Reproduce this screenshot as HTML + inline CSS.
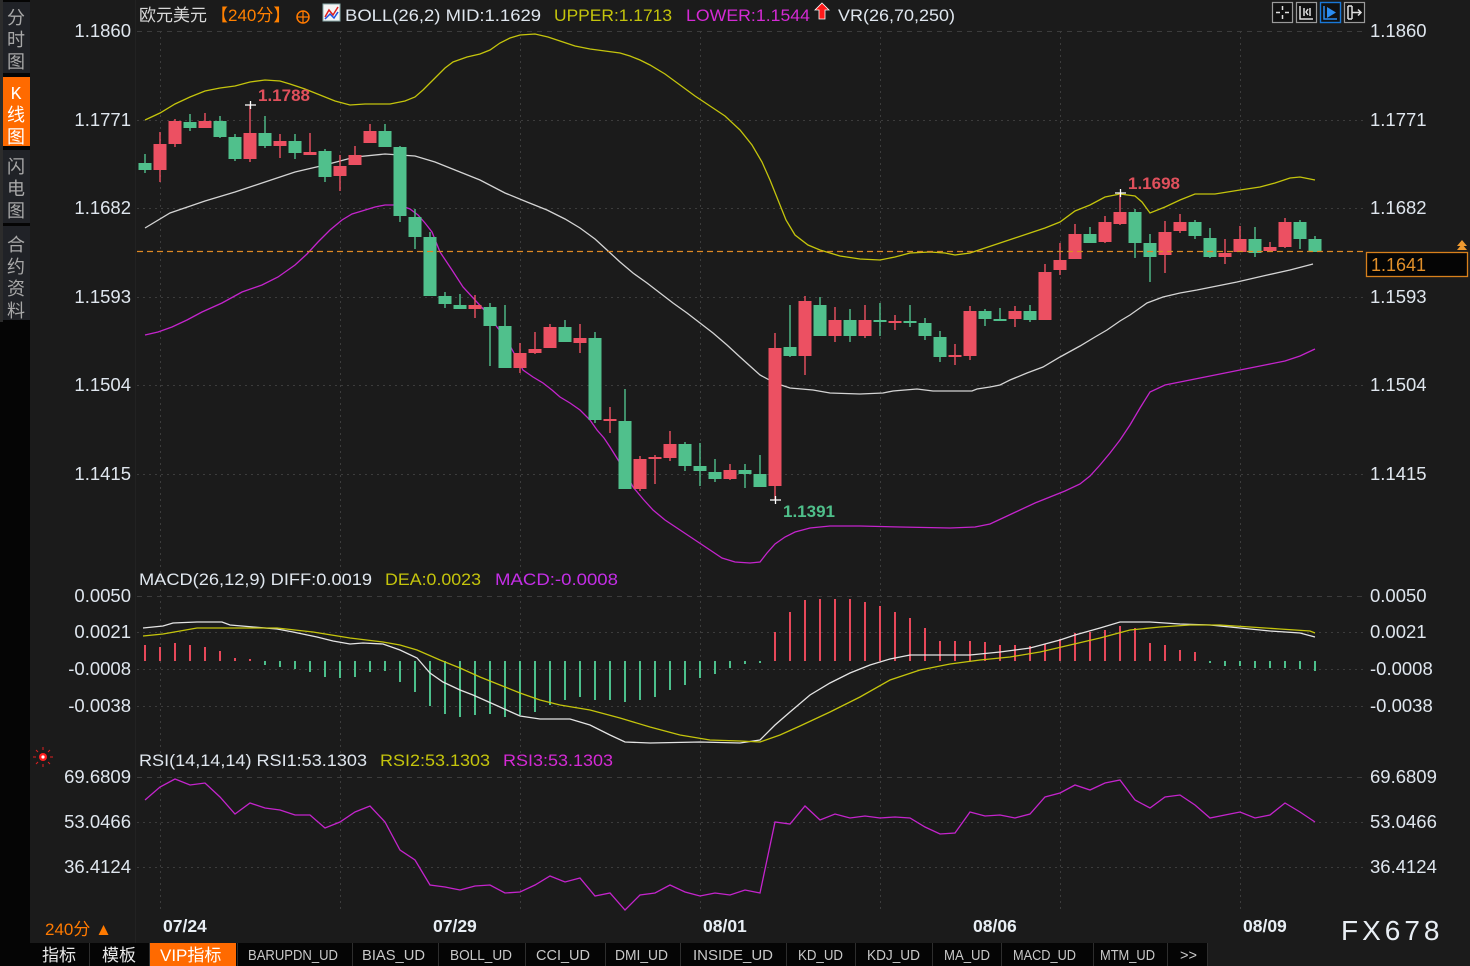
<!DOCTYPE html>
<html><head><meta charset="utf-8"><style>
html,body{margin:0;padding:0;background:#1b1b1b;width:1470px;height:966px;overflow:hidden}
svg{display:block}
text{font-family:"Liberation Sans","Noto Sans CJK SC",sans-serif}
.ax{fill:#dfe6ee;font-size:18.5px}
.tab{font-family:"Liberation Mono","Noto Sans CJK SC",monospace;font-size:15px;fill:#c8c8c8}
.side{font-size:18px;fill:#a8a8a8;text-anchor:middle}
</style></head><body>
<svg width="1470" height="966" viewBox="0 0 1470 966" xmlns="http://www.w3.org/2000/svg">
<rect x="0" y="0" width="1470" height="966" fill="#1b1b1b"/>
<!-- sidebar -->
<rect x="0" y="0" width="30" height="966" fill="#050505"/>
<rect x="0" y="0" width="3" height="322" fill="#2c2c2c"/>
<rect x="3" y="2" width="27" height="71" fill="#202227"/>
<rect x="3" y="77" width="27" height="69" fill="#ff6a00"/>
<rect x="3" y="150" width="27" height="73" fill="#202227"/>
<rect x="3" y="226" width="27" height="94" fill="#202227"/>
<text class="side" x="16" y="24">分</text><text class="side" x="16" y="46">时</text><text class="side" x="16" y="68">图</text>
<text class="side" x="16" y="99" style="fill:#fff;font-family:'Liberation Mono',monospace">K</text><text class="side" x="16" y="121" style="fill:#fff">线</text><text class="side" x="16" y="143" style="fill:#fff">图</text>
<text class="side" x="16" y="173">闪</text><text class="side" x="16" y="195">电</text><text class="side" x="16" y="217">图</text>
<text class="side" x="16" y="251">合</text><text class="side" x="16" y="273">约</text><text class="side" x="16" y="295">资</text><text class="side" x="16" y="317">料</text>
<line x1="135.5" y1="0" x2="135.5" y2="943" stroke="#222" stroke-width="1"/>

<!-- grid -->
<g stroke="#3c3c3c" stroke-width="1" fill="none">
<path d="M137 31.5H1365M137 596.5H1365M137 777.5H1365" stroke-dasharray="5 5"/>
<path d="M137 120.5H1365M137 208.5H1365M137 297.5H1365M137 385.5H1365M137 474.5H1365M137 632.5H1365M137 669.5H1365M137 706.5H1365M137 822.5H1365M137 867.5H1365" stroke-dasharray="2 4"/>
<path d="M160.5 31V912M340.5 31V912M520.5 31V912M700.5 31V912M880.5 31V912M1060.5 31V912M1240.5 31V912" stroke-dasharray="2 4"/>
</g>

<!-- header -->
<text x="139" y="21" font-size="17" fill="#d8d8d8">欧元美元</text>
<text x="211" y="21" font-size="17" fill="#ff8000">【240分】</text>
<circle cx="303" cy="17" r="6" fill="none" stroke="#ff7a00" stroke-width="1.5"/><path d="M297 17H309M303 11V23" stroke="#ff7a00" stroke-width="1.3"/>
<rect x="323" y="4" width="17" height="17" fill="#f4f4f4" stroke="#8aa" stroke-width="1"/>
<path d="M325 17L329 10L333 15L338 7" stroke="#e02020" stroke-width="1.5" fill="none"/><path d="M325 19L330 14L334 18L338 12" stroke="#2050e0" stroke-width="1.5" fill="none"/>
<text x="345" y="21" font-size="17" fill="#dfe6ee" textLength="196" lengthAdjust="spacingAndGlyphs">BOLL(26,2) MID:1.1629</text>
<text x="554" y="21" font-size="17" fill="#c4c40c" textLength="118" lengthAdjust="spacingAndGlyphs">UPPER:1.1713</text>
<text x="686" y="21" font-size="17" fill="#d42ad4" textLength="124" lengthAdjust="spacingAndGlyphs">LOWER:1.1544</text>
<path d="M822 3L829 10H825V19H819V10H815Z" fill="#ff1a1a" stroke="#fff" stroke-width="0.8"/>
<text x="838" y="21" font-size="17" fill="#dfe6ee" textLength="117" lengthAdjust="spacingAndGlyphs">VR(26,70,250)</text>

<!-- top right icons -->
<g fill="#111" stroke="#9a9a9a" stroke-width="1.2">
<rect x="1272.5" y="2.5" width="20" height="20"/><rect x="1296.5" y="2.5" width="20" height="20"/><rect x="1344.5" y="2.5" width="20" height="20"/>
</g>
<rect x="1320.5" y="2.5" width="20" height="20" fill="#111" stroke="#1a78d8" stroke-width="1.4"/>
<g stroke="#e0e0e0" stroke-width="1.5" fill="none">
<path d="M1282.5 6V10M1282.5 15V19M1276 12.5H1280M1285 12.5H1289"/>
<path d="M1300 6V19H1313M1304 8V16M1308 9L1306 12L1308 15M1310 8V16"/>
<path d="M1348 6V19M1352 6V19M1348 6H1352M1348 19H1352M1352 12.5H1361M1358 9.5L1361 12.5L1358 15.5"/>
</g>
<g stroke="#2a8cf0" stroke-width="1.5" fill="none"><path d="M1324 6V19H1337"/></g>
<path d="M1327 7L1336 12.5L1327 18Z" fill="#2a8cf0"/>

<!-- BOLL lines -->
<polyline fill="none" stroke="#c4c40c" stroke-width="1.3" points="145,120 160,113 175,104 190,97 205,91 220,88 235,86 250,82 265,80 280,81 290,84 305,89 320,95 335,101 350,105 365,104 390,104 405,101 415,97 423,90 433,80 445,68 453,62 467,57 480,54 490,50 500,43 510,38 520,35 535,34 548,37 560,41 575,46 590,49 605,51 620,53 630,56 640,60 650,65 665,74 680,85 695,96 710,106 725,116 740,130 752,145 762,162 770,180 778,200 786,220 795,235 808,245 820,250 840,256 860,259 880,260 895,257 910,253 930,252 945,253 955,255 970,253 985,248 1000,243 1015,238 1030,233 1045,228 1060,222 1075,211 1090,205 1105,197 1120,194 1135,196 1142,202 1150,213 1165,207 1180,200 1195,194 1215,194 1240,190 1260,187 1275,183 1290,178 1300,177 1315,180"/>
<polyline fill="none" stroke="#d4d4d4" stroke-width="1.3" points="145,228 170,213 205,201 235,192 265,182 295,172 325,165 355,157 385,154 415,156 435,162 455,170 480,180 505,193 527,202 547,210 565,219 580,228 595,239 607,250 620,262 633,273 647,283 660,293 673,303 687,313 700,323 713,333 727,345 740,357 750,366 760,375 775,383 790,388 813,390 830,393 860,394 883,393 893,391 917,389 933,391 972,391 977,389 990,387 1000,385 1010,380 1027,373 1043,367 1060,357 1080,346 1095,337 1107,330 1120,321 1130,315 1147,303 1163,297 1180,293 1197,290 1217,286 1237,282 1263,276 1290,270 1313,264"/>
<polyline fill="none" stroke="#c424cc" stroke-width="1.3" points="145,335 158,332 172,327 187,320 202,312 222,303 242,292 262,285 278,277 295,265 307,254 318,242 330,230 342,220 352,214 362,211 375,207 385,205 395,205 402,206 410,209 418,215 425,223 432,232 440,252 452,270 463,287 475,300 487,313 497,327 507,340 515,355 523,370 533,377 543,383 552,390 560,397 570,403 580,410 590,420 597,430 604,438 610,447 620,463 627,475 633,487 643,499 653,510 665,520 680,530 695,540 710,550 722,558 735,562 750,563 760,562 767,553 775,544 785,537 795,532 810,528 830,526 860,526 900,527 950,528 975,527 990,524 1005,517 1020,510 1035,503 1050,497 1065,491 1080,484 1090,476 1100,465 1110,453 1120,440 1130,425 1140,408 1150,392 1165,385 1185,381 1205,377 1225,373 1245,369 1265,365 1285,361 1300,356 1315,349"/>

<!-- candles -->
<g stroke="#ec5062" stroke-width="1.4" fill="none">
<path d="M160 132V182M175 119V147M205 113V128M250 105V162M280 134V158M310 133V155M340 155V191M355 146V165M370 124V143M475 295V318M520 343V373M535 332V354M550 324V348M580 324V353M610 407V433M640 456V491M655 455V484M670 431V461M730 464V480M775 333V500M805 296V375M835 307V342M865 305V338M895 315V330M955 344V365M970 306V360M1015 306V327M1045 264V320M1060 243V275M1075 224V259M1105 216V243M1120 193V225M1165 221V273M1180 214V233M1225 239V264M1240 226V252M1270 242V251M1285 218V248"/>
</g>
<path fill="#ec5062" d="M153.5 144h13v26h-13zM168.5 121h13v23h-13zM198.5 121h13v7h-13zM243.5 133h13v26h-13zM273.5 141h13v5h-13zM303.5 152h13v3h-13zM333.5 166h13v10h-13zM348.5 155h13v10h-13zM363.5 131h13v12h-13zM468.5 305h13v4h-13zM513.5 353h13v15h-13zM528.5 349h13v4h-13zM543.5 327h13v21h-13zM573.5 338h13v5h-13zM603.5 419h13v2h-13zM633.5 459h13v30h-13zM648.5 457h13v2h-13zM663.5 444h13v14h-13zM723.5 470h13v9h-13zM768.5 348h13v138h-13zM798.5 301h13v55h-13zM828.5 320h13v16h-13zM858.5 320h13v16h-13zM888.5 321h13v2h-13zM948.5 355h13v2h-13zM963.5 311h13v45h-13zM1008.5 311h13v8h-13zM1038.5 272h13v48h-13zM1053.5 260h13v10h-13zM1068.5 234h13v25h-13zM1098.5 222h13v20h-13zM1113.5 212h13v12h-13zM1158.5 232h13v23h-13zM1173.5 222h13v9h-13zM1218.5 253h13v4h-13zM1233.5 239h13v13h-13zM1263.5 247h13v4h-13zM1278.5 222h13v25h-13z"/>
<g stroke="#50c08c" stroke-width="1.4" fill="none">
<path d="M145 154V173M190 114V131M220 116V138M235 134V161M265 116V148M295 134V159M325 149V182M385 124V147M400 146V222M415 209V249M430 232V296M445 292V308M460 294V309M490 303V366M505 305V368M565 320V342M595 332V423M625 389V489M685 442V471M700 443V486M715 459V482M745 464V488M760 455V487M790 305V357M820 297V336M850 309V342M880 303V336M910 305V327M925 318V340M940 331V362M985 309V326M1000 308V321M1030 305V322M1090 227V243M1135 209V258M1150 234V282M1195 220V239M1210 228V258M1255 227V257M1300 220V249M1315 236V252"/>
</g>
<path fill="#50c08c" d="M138.5 163h13v7h-13zM183.5 122h13v6h-13zM213.5 121h13v16h-13zM228.5 137h13v22h-13zM258.5 133h13v13h-13zM288.5 141h13v12h-13zM318.5 151h13v26h-13zM378.5 131h13v16h-13zM393.5 147h13v69h-13zM408.5 217h13v20h-13zM423.5 237h13v59h-13zM438.5 296h13v8h-13zM453.5 305h13v4h-13zM483.5 307h13v19h-13zM498.5 326h13v42h-13zM558.5 327h13v15h-13zM588.5 338h13v82h-13zM618.5 421h13v68h-13zM678.5 444h13v22h-13zM693.5 466h13v5h-13zM708.5 472h13v7h-13zM738.5 470h13v4h-13zM753.5 474h13v13h-13zM783.5 347h13v9h-13zM813.5 305h13v31h-13zM843.5 320h13v16h-13zM873.5 320h13v2h-13zM903.5 321h13v2h-13zM918.5 323h13v13h-13zM933.5 337h13v20h-13zM978.5 311h13v8h-13zM993.5 319h13v2h-13zM1023.5 311h13v9h-13zM1083.5 234h13v9h-13zM1128.5 212h13v31h-13zM1143.5 243h13v14h-13zM1188.5 222h13v14h-13zM1203.5 238h13v19h-13zM1248.5 239h13v14h-13zM1293.5 222h13v17h-13zM1308.5 239h13v13h-13z"/>

<!-- high/low markers -->
<g stroke="#fff" stroke-width="1.3"><path d="M245 105H256M250.5 101V109M770 500H781M775.5 496V504M1115 193H1126M1120.5 189V197"/></g>
<text x="258" y="101" font-size="17" font-weight="bold" fill="#e0505c">1.1788</text>
<text x="783" y="517" font-size="17" font-weight="bold" fill="#4fbf8a">1.1391</text>
<text x="1128" y="189" font-size="17" font-weight="bold" fill="#e0505c">1.1698</text>

<!-- current price -->
<line x1="137" y1="251.5" x2="1366" y2="251.5" stroke="#e08a24" stroke-width="1.3" stroke-dasharray="6 4"/>
<rect x="1366.5" y="252.5" width="101" height="24" fill="#050505" stroke="#d8801c" stroke-width="1.3"/>
<text x="1371" y="271" font-size="18" fill="#e2902a">1.1641</text>
<path d="M1457 246L1462 240L1467 246ZM1457 250L1462 244L1467 250Z" fill="#f09a30"/>

<!-- axis labels -->
<g class="ax" text-anchor="end">
<text x="131" y="37">1.1860</text><text x="131" y="126">1.1771</text><text x="131" y="214">1.1682</text><text x="131" y="303">1.1593</text><text x="131" y="391">1.1504</text><text x="131" y="480">1.1415</text>
<text x="131" y="602">0.0050</text><text x="131" y="638">0.0021</text><text x="131" y="675">-0.0008</text><text x="131" y="712">-0.0038</text>
<text x="131" y="783">69.6809</text><text x="131" y="828">53.0466</text><text x="131" y="873">36.4124</text>
</g>
<g class="ax">
<text x="1370" y="37">1.1860</text><text x="1370" y="126">1.1771</text><text x="1370" y="214">1.1682</text><text x="1370" y="303">1.1593</text><text x="1370" y="391">1.1504</text><text x="1370" y="480">1.1415</text>
<text x="1370" y="602">0.0050</text><text x="1370" y="638">0.0021</text><text x="1370" y="675">-0.0008</text><text x="1370" y="712">-0.0038</text>
<text x="1370" y="783">69.6809</text><text x="1370" y="828">53.0466</text><text x="1370" y="873">36.4124</text>
</g>

<!-- MACD -->
<text x="139" y="585" font-size="17" fill="#dfe6ee" textLength="233" lengthAdjust="spacingAndGlyphs">MACD(26,12,9) DIFF:0.0019</text>
<text x="385" y="585" font-size="17" fill="#c4c40c" textLength="96" lengthAdjust="spacingAndGlyphs">DEA:0.0023</text>
<text x="495" y="585" font-size="17" fill="#c42ee6" textLength="123" lengthAdjust="spacingAndGlyphs">MACD:-0.0008</text>
<path stroke="#e8485a" stroke-width="2" d="M145 661V645M160 661V647M175 661V643M190 661V645M205 661V647M220 661V651M235 661V658M250 661V659M775 661V632M790 661V612M805 661V600M820 661V599M835 661V599M850 661V599M865 661V602M880 661V606M895 661V612M910 661V618M925 661V628M940 661V641M955 661V641M970 661V641M985 661V642M1000 661V645M1015 661V645M1030 661V646M1045 661V644M1060 661V639M1075 661V633M1090 661V632M1105 661V630M1120 661V626M1135 661V628M1150 661V643M1165 661V645M1180 661V650M1195 661V652"/>
<path stroke="#4cbf8b" stroke-width="2" d="M265 661V665M280 661V667M295 661V669M310 661V672M325 661V677M340 661V678M355 661V677M370 661V672M385 661V671M400 661V682M415 661V692M430 661V706M445 661V714M460 661V717M475 661V715M490 661V714M505 661V717M520 661V715M535 661V712M550 661V705M565 661V700M580 661V697M595 661V700M610 661V700M625 661V702M640 661V700M655 661V697M670 661V690M685 661V685M700 661V678M715 661V674M730 661V668M745 661V664M760 661V663M1210 661V663M1225 661V666M1240 661V666M1255 661V668M1270 661V668M1285 661V668M1300 661V669M1315 661V671"/>
<polyline fill="none" stroke="#e4e4e4" stroke-width="1.3" points="143,628 163,626 173,623 197,622 222,622 230,625 277,629 293,632 317,637 333,641 350,644 363,643 383,644 400,650 417,658 430,673 443,682 460,690 473,695 500,707 520,716 540,719 570,719 590,725 610,735 625,742 650,743 700,742 740,743 760,740 775,725 790,712 810,695 830,683 850,673 870,665 890,659 910,655 940,655 970,655 1000,652 1030,648 1060,640 1075,635 1100,628 1120,622 1150,622 1180,624 1210,625 1240,628 1270,631 1300,633 1315,637"/>
<polyline fill="none" stroke="#c4c40c" stroke-width="1.3" points="143,636 163,634 197,628 250,628 277,628 313,632 350,638 383,642 400,645 417,650 440,660 460,668 480,677 500,685 520,693 540,700 560,705 590,710 620,718 650,727 680,735 710,740 740,741 760,742 780,735 800,726 830,712 860,697 890,680 920,670 950,664 980,660 1010,657 1040,652 1070,645 1100,638 1130,630 1160,627 1190,625 1220,625 1250,627 1280,629 1310,631 1315,633"/>

<!-- RSI -->
<g>
<circle cx="43" cy="757" r="4" fill="#ff2020"/><circle cx="43" cy="757" r="1.6" fill="#fff"/>
<path d="M43 747V750M43 764V767M33 757H36M50 757H53M36 750L38 752M50 750L48 752M36 764L38 762M50 764L48 762" stroke="#e02020" stroke-width="1"/>
</g>
<text x="139" y="766" font-size="17" fill="#dfe6ee" textLength="228" lengthAdjust="spacingAndGlyphs">RSI(14,14,14) RSI1:53.1303</text>
<text x="380" y="766" font-size="17" fill="#c4c40c" textLength="110" lengthAdjust="spacingAndGlyphs">RSI2:53.1303</text>
<text x="503" y="766" font-size="17" fill="#d42ad4" textLength="110" lengthAdjust="spacingAndGlyphs">RSI3:53.1303</text>
<polyline fill="none" stroke="#c424cc" stroke-width="1.3" points="145,800 160,787 175,779 190,785 205,783 220,797 235,814 250,803 265,808 280,810 295,815 310,815 325,828 340,822 355,812 370,806 385,822 400,850 415,860 430,885 445,887 460,890 475,886 490,885 505,893 520,892 535,885 550,876 565,882 580,878 595,896 610,893 625,910 640,895 655,893 670,885 685,892 700,896 715,893 730,895 745,890 760,893 775,822 790,824 805,806 820,820 835,814 850,818 865,816 880,818 895,817 910,818 925,827 940,834 955,833 970,812 985,816 1000,815 1015,818 1030,814 1045,797 1060,793 1075,785 1090,790 1105,783 1120,780 1135,800 1150,808 1165,797 1180,795 1195,805 1210,818 1225,815 1240,812 1255,818 1270,815 1285,803 1300,812 1315,822"/>

<!-- dates -->
<g font-size="17.5" font-weight="bold" fill="#e8eef4">
<text x="163" y="932">07/24</text><text x="433" y="932">07/29</text><text x="703" y="932">08/01</text><text x="973" y="932">08/06</text><text x="1243" y="932">08/09</text>
</g>
<text x="45" y="935" font-size="17" fill="#ff7a00">240分 ▲</text>
<text x="1341" y="940" font-size="28" fill="#e8eef4" letter-spacing="4">FX678</text>

<!-- bottom tabs -->
<rect x="30" y="943" width="1178" height="23" fill="#050505"/>
<rect x="150" y="943" width="86" height="23" fill="#ff6a00"/>
<path stroke="#2e2e2e" stroke-width="1" d="M89.5 943V966M149.5 943V966M237.5 943V966M352.5 943V966M438.5 943V966M525.5 943V966M605.5 943V966M680.5 943V966M786.5 943V966M855.5 943V966M932.5 943V966M1001.5 943V966M1093.5 943V966M1167.5 943V966M1207.5 943V966"/>
<text x="42" y="961" font-size="17" fill="#e8e8e8">指标</text>
<text x="102" y="961" font-size="17" fill="#e8e8e8">模板</text>
<text x="160" y="961" font-size="17" fill="#fff">VIP指标</text>
<g class="tab">
<text x="248" y="960" textLength="90" lengthAdjust="spacingAndGlyphs">BARUPDN_UD</text>
<text x="362" y="960" textLength="63" lengthAdjust="spacingAndGlyphs">BIAS_UD</text>
<text x="450" y="960" textLength="62" lengthAdjust="spacingAndGlyphs">BOLL_UD</text>
<text x="536" y="960" textLength="54" lengthAdjust="spacingAndGlyphs">CCI_UD</text>
<text x="615" y="960" textLength="53" lengthAdjust="spacingAndGlyphs">DMI_UD</text>
<text x="693" y="960" textLength="80" lengthAdjust="spacingAndGlyphs">INSIDE_UD</text>
<text x="798" y="960" textLength="45" lengthAdjust="spacingAndGlyphs">KD_UD</text>
<text x="867" y="960" textLength="53" lengthAdjust="spacingAndGlyphs">KDJ_UD</text>
<text x="944" y="960" textLength="46" lengthAdjust="spacingAndGlyphs">MA_UD</text>
<text x="1013" y="960" textLength="63" lengthAdjust="spacingAndGlyphs">MACD_UD</text>
<text x="1100" y="960" textLength="55" lengthAdjust="spacingAndGlyphs">MTM_UD</text>
<text x="1180" y="960" textLength="17" lengthAdjust="spacingAndGlyphs">&gt;&gt;</text>
</g>
</svg>
</body></html>
